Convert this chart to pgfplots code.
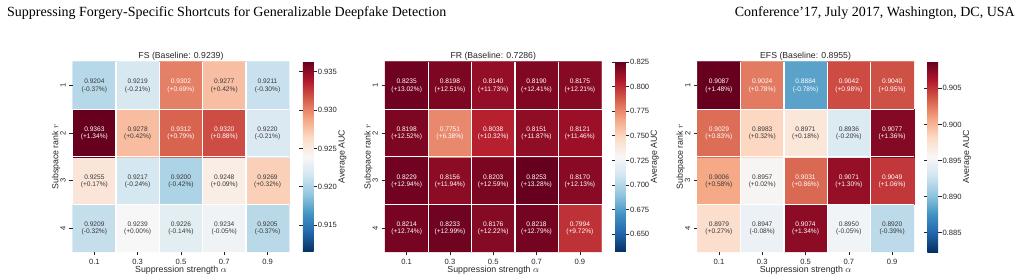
\documentclass[border=0pt]{standalone}
\usepackage{pgfplots}
\pgfplotsset{compat=1.18}
\usepackage{pgfplotstable}
\usepackage{fontspec}
\setmainfont{Liberation Sans}
\newfontfamily\headfont{Liberation Serif}
\definecolor{txt}{gray}{0.22}
\definecolor{tk}{gray}{0.15}

\pgfplotstableread{
x y v p w
0 1 0.9209 -0.32 0
1 1 0.9239 +0.00 0
2 1 0.9226 -0.14 0
3 1 0.9234 -0.05 0
4 1 0.9205 -0.37 0
0 2 0.9255 +0.17 0
1 2 0.9217 -0.24 0
2 2 0.9200 -0.42 0
3 2 0.9248 +0.09 0
4 2 0.9269 +0.32 0
0 3 0.9363 +1.34 1
1 3 0.9278 +0.42 0
2 3 0.9312 +0.79 1
3 3 0.9320 +0.88 1
4 3 0.9220 -0.21 0
0 4 0.9204 -0.37 0
1 4 0.9219 -0.21 0
2 4 0.9302 +0.69 1
3 4 0.9277 +0.42 0
4 4 0.9211 -0.30 0
}\fsdata

\pgfplotstableread{
x y v p w
0 1 0.8214 +12.74 1
1 1 0.8233 +12.99 1
2 1 0.8176 +12.22 1
3 1 0.8218 +12.79 1
4 1 0.7994 +9.72 1
0 2 0.8229 +12.94 1
1 2 0.8156 +11.94 1
2 2 0.8203 +12.59 1
3 2 0.8253 +13.28 1
4 2 0.8170 +12.13 1
0 3 0.8198 +12.52 1
1 3 0.7751 +6.38 1
2 3 0.8038 +10.32 1
3 3 0.8151 +11.87 1
4 3 0.8121 +11.46 1
0 4 0.8235 +13.02 1
1 4 0.8198 +12.51 1
2 4 0.8140 +11.73 1
3 4 0.8190 +12.41 1
4 4 0.8175 +12.21 1
}\frdata

\pgfplotstableread{
x y v p w
0 1 0.8979 +0.27 0
1 1 0.8947 -0.08 0
2 1 0.9074 +1.34 1
3 1 0.8950 -0.05 0
4 1 0.8920 -0.39 0
0 2 0.9006 +0.58 0
1 2 0.8957 +0.02 0
2 2 0.9031 +0.86 1
3 2 0.9071 +1.30 1
4 2 0.9049 +1.06 1
0 3 0.9029 +0.83 1
1 3 0.8983 +0.32 0
2 3 0.8971 +0.18 0
3 3 0.8936 -0.20 0
4 3 0.9077 +1.36 1
0 4 0.9087 +1.48 1
1 4 0.9024 +0.78 1
2 4 0.8884 -0.78 1
3 4 0.9042 +0.98 1
4 4 0.9040 +0.95 1
}\efsdata

\pgfplotsset{
  colormap={rdbu}{rgb255=(5,48,97) rgb255=(33,102,172) rgb255=(67,147,195) rgb255=(146,197,222) rgb255=(209,229,240) rgb255=(247,247,247) rgb255=(253,219,199) rgb255=(244,165,130) rgb255=(214,96,77) rgb255=(178,24,43) rgb255=(103,0,31)},
  hm/.style={
    scale only axis, width=216.5pt, height=190.3pt, anchor=south west,
    clip=false,
    colormap name=rdbu, colorbar,
    colorbar shift/.style={xshift=13.6pt},
    xmin=-0.5, xmax=4.5, ymin=0.5, ymax=4.5,
    xtick={0,1,2,3,4}, xticklabels={0.1,0.3,0.5,0.7,0.9},
    ytick={1,2,3,4}, yticklabels={4,3,2,1},
    minor xtick={0.5,1.5,2.5,3.5}, minor ytick={1.5,2.5,3.5},
    minor grid style={white, line width=1.3pt}, grid=minor,
    axis on top,
    tick pos=left, tick align=outside, major tick length=3.5pt, minor tick length=0pt,
    tick style={tk, line width=0.6pt},
    axis line style={draw=none},
    ticklabel style={font=\fontsize{7.6}{9}\selectfont, text=tk},
    yticklabel style={rotate=90, anchor=south},
    label style={font=\fontsize{8.8}{10}\selectfont, text=tk},
    xlabel={Suppression strength $\alpha$}, ylabel={Subspace rank $r$},
    title style={font=\fontsize{8.7}{10}\selectfont, text=tk, at={(0.5,1)}, anchor=base, yshift=-3.1pt},
    xlabel style={at={(0.5,0)}, anchor=base, yshift=-20.4pt},
    ylabel style={at={(0,0.5)}, anchor=center, yshift=16.7pt},
    colorbar style={
      at={(parent axis.north east)}, anchor=north west,
      width=10.8pt, scale only axis, height=190.3pt,
      axis line style={draw=none},
      tick style={tk, line width=0.6pt}, major tick length=3.5pt, tick align=outside,
      yticklabel style={font=\fontsize{7.6}{9}\selectfont, text=tk, inner xsep=0.6pt, /pgf/number format/.cd, fixed, fixed zerofill, precision=3, assume math mode=true},
    },
  },
  cell/.style={matrix plot*, mesh/cols=5, point meta=\thisrow{v}},
  annbase/.style={only marks, mark=none, point meta=explicit symbolic,
    every node near coord/.append style={anchor=center, inner sep=0pt,
      font=\fontsize{6.6}{7.8}\selectfont}},
  annv/.style={annbase, nodes near coords={\pgfplotspointmeta},
    every node near coord/.append style={yshift=3.9pt}},
  annp/.style={annbase, nodes near coords={(\pgfplotspointmeta\%)},
    every node near coord/.append style={yshift=-3.9pt}},
  wt/.style={restrict expr to domain={\thisrow{w}}{0.5:1.5},
    every node near coord/.append style={text=white}},
  dk/.style={restrict expr to domain={\thisrow{w}}{-0.5:0.5},
    every node near coord/.append style={text=txt}},
}
\newcommand\cblabel{\node[rotate=90, anchor=center, inner sep=0pt, font=\fontsize{8.8}{10}\selectfont, text=tk]
  at ([xshift=53.2pt]axis description cs:1,0.5) {Average AUC};}

\begin{document}
\begin{tikzpicture}
\path[use as bounding box] (0pt,0pt) rectangle (1021pt,280pt);
\node[anchor=base west, inner sep=0pt, font=\headfont\fontsize{14}{16}\selectfont] at (7pt,263.3pt)
  {Suppressing Forgery-Specific Shortcuts for Generalizable Deepfake Detection};
\node[anchor=base east, inner sep=0pt, font=\headfont\fontsize{14}{16}\selectfont] at (1015pt,263.3pt)
  {Conference’17, July 2017, Washington, DC, USA};

\begin{axis}[hm, at={(72.7pt,28pt)}, title={FS (Baseline: 0.9239)},
  point meta min=0.9115, point meta max=0.9363,
  colorbar style={ytick={0.915,0.920,0.925,0.930,0.935}}]
\addplot[cell] table[x=x,y=y] {\fsdata};
\addplot[annv,wt] table[x=x,y=y,meta=v] {\fsdata};
\addplot[annp,wt] table[x=x,y=y,meta=p] {\fsdata};
\addplot[annv,dk] table[x=x,y=y,meta=v] {\fsdata};
\addplot[annp,dk] table[x=x,y=y,meta=p] {\fsdata};
\cblabel
\end{axis}

\begin{axis}[hm, at={(385pt,28pt)}, title={FR (Baseline: 0.7286)},
  point meta min=0.6319, point meta max=0.8253,
  colorbar style={ytick={0.650,0.675,0.700,0.725,0.750,0.775,0.800,0.825}}]
\addplot[cell] table[x=x,y=y] {\frdata};
\addplot[annv,wt] table[x=x,y=y,meta=v] {\frdata};
\addplot[annp,wt] table[x=x,y=y,meta=p] {\frdata};
\cblabel
\end{axis}

\begin{axis}[hm, at={(697.3pt,28pt)}, title={EFS (Baseline: 0.8955)},
  point meta min=0.8823, point meta max=0.9087,
  colorbar style={ytick={0.885,0.890,0.895,0.900,0.905}}]
\addplot[cell] table[x=x,y=y] {\efsdata};
\addplot[annv,wt] table[x=x,y=y,meta=v] {\efsdata};
\addplot[annp,wt] table[x=x,y=y,meta=p] {\efsdata};
\addplot[annv,dk] table[x=x,y=y,meta=v] {\efsdata};
\addplot[annp,dk] table[x=x,y=y,meta=p] {\efsdata};
\cblabel
\end{axis}
\end{tikzpicture}
\end{document}
